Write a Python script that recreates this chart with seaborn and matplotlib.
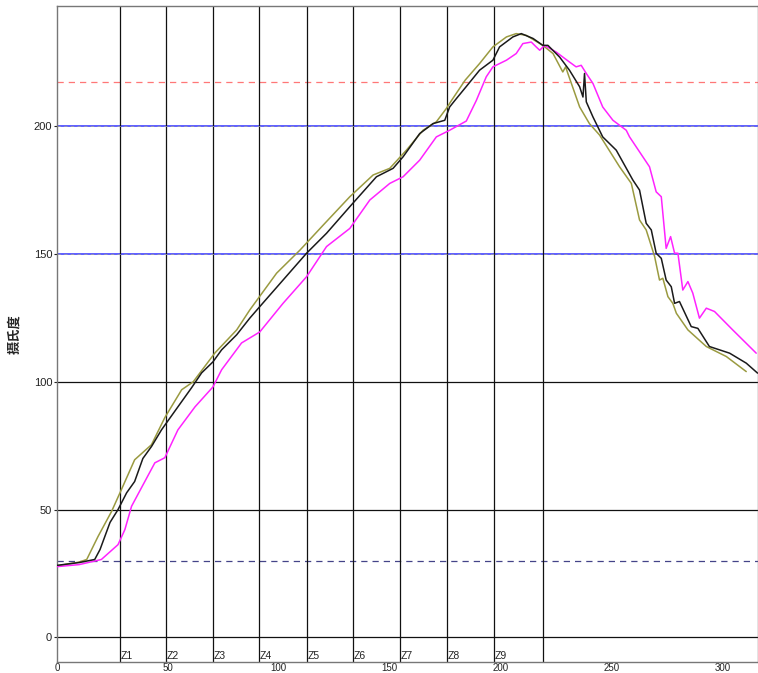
import matplotlib
matplotlib.use("Agg")
import matplotlib.pyplot as plt
import seaborn as sns
import pandas as pd

# ---- data ----
black_x = [0, 10, 17, 19.4, 23.9, 27.5, 31.4, 35, 38.7, 42.6, 47.1, 49.4, 54.5, 60.6, 65.2,
           70.3, 74.2, 81, 86.9, 91.4, 101.9, 112.5, 121.5, 132, 144, 151.5, 156, 163.5,
           169.5, 174.8, 177, 179.3, 184.5, 190.5, 196.5, 199.5, 205.5, 209.3, 214.6, 219,
           221.3, 226.6, 231, 235.6, 237.1, 237.8, 238.6, 241.6, 246, 252.1, 259.6, 262.6,
           265.6, 267.9, 270.1, 272.4, 274.6, 276.9, 278.4, 280.6, 285.9, 288.9, 294.1,
           303.2, 310.7, 315.8]
black_y = [28.2, 29.3, 30.5, 34.4, 45, 50, 56.6, 61, 70, 74.7, 81.2, 84, 90.2, 97.6, 103.5,
           107.8, 112.5, 118.4, 124.9, 129.4, 139.8, 150.3, 158.1, 168.5, 180.2, 183.5, 188,
           197.1, 201, 202.3, 207.5, 210, 215.5, 221.9, 225.8, 231, 234.9, 236.2, 234.3, 231.6,
           231.6, 227, 221.9, 215.4, 211.4, 220.6, 209.5, 203.6, 195.8, 190.6, 178.9, 175,
           162, 159.4, 150.3, 148.3, 139.8, 137.2, 130.7, 131.4, 121.6, 120.9, 113.8,
           111.2, 107.3, 103.4]

olive_x = [0, 10, 13.4, 18.5, 24.6, 28.4, 35, 42.6, 48.6, 56.2, 61.4, 71.2, 81, 86.9, 99,
           109.5, 120, 132, 142.5, 150, 157.5, 165, 171, 175.5, 177.8, 184, 190.5, 196.5,
           202.6, 207, 211.6, 219, 223.6, 228, 229.3, 230.3, 235.6, 240, 244.6, 253.6,
           258.9, 262.6, 265.6, 269.4, 271.6, 273.1, 275.4, 277.6, 279.2, 284.4, 292.7,
           301.7, 310.7]
olive_y = [28, 29.5, 30.5, 39.5, 49.3, 56.6, 69.5, 75.4, 86, 96.9, 100, 111.3, 120.3, 128.1,
           142.5, 151.5, 161.3, 172.4, 180.9, 183.5, 190.6, 198.4, 201.7, 206.9, 210, 218,
           224.5, 231, 234.9, 236.2, 235.5, 231.6, 228.4, 221.2, 223.2, 220.6, 207.5, 201,
           196.5, 184.1, 177.6, 163.3, 159.4, 149, 139.8, 140.5, 133.3, 130.7, 126.8, 120.3,
           113.8, 109.9, 104]

magenta_x = [0, 10, 20, 27.5, 30.6, 33.6, 38.1, 44.1, 48.6, 54.5, 62.2, 70.3, 74.2, 83.2,
             91.4, 101.9, 112.5, 121.5, 132, 141, 150, 156, 163.5, 171, 177, 184.5, 189,
             193.5, 196.5, 202.6, 207, 210, 213.8, 216, 217.6, 219.8, 225, 231, 234, 236.3,
             238.6, 241.6, 246, 250.6, 256.6, 258.1, 267.1, 270.1, 272.4, 274.6, 276.6,
             278.4, 279.9, 282.1, 284.4, 286.6, 289.6, 292.7, 296.4, 304.6, 315.2]
magenta_y = [27.7, 28.5, 30.5, 36.3, 42.2, 51.3, 58.6, 68.3, 70.3, 81.2, 90.2, 98, 104.7,
             115.2, 119.5, 130.7, 141.1, 152.9, 160, 171.1, 177.6, 180.2, 186.7, 195.8,
             198.4, 202, 210, 219.3, 223.2, 225.8, 228.4, 232.3, 232.9, 231, 229.7, 231.6,
             229, 225.1, 223.2, 223.8, 220.6, 216.7, 207.5, 202.3, 198.4, 195.8, 184.1,
             174.3, 172.4, 152.2, 156.8, 150.3, 150.3, 135.9, 139.2, 134.7, 124.9, 128.8,
             127.5, 120.3, 111.2]

zone_x = [28.4, 49.1, 70.3, 91.0, 112.6, 133.3, 154.5, 175.7, 196.8, 218.9]
zone_labels = ["Z1", "Z2", "Z3", "Z4", "Z5", "Z6", "Z7", "Z8", "Z9"]
black_hlines = [0, 50, 100]
blue_hlines = [150, 200]
upper_limit = 217.2
lower_limit = 30.1
x_ticks = [0, 50, 100, 150, 200, 250, 300]
y_ticks = [0, 50, 100, 150, 200]
y_label = "摄氏度"

# ---- plot ----
sns.set_style("white")
plt.rcParams['font.family'] = ['Liberation Sans', 'Noto Sans CJK SC', 'DejaVu Sans']

fig = plt.figure(figsize=(7.58, 6.73), dpi=100)
ax = fig.add_axes([0.0752, 1 - 662 / 673, 0.9248, (662 - 6) / 673])

for yv in black_hlines:
    ax.axhline(yv, color="#111111", lw=0.9, zorder=1)
for yv in blue_hlines:
    ax.axhline(yv, color="#3333ff", lw=1.1, zorder=1)
    ax.axhline(yv, color="#9999aa", lw=0.6, ls=(0, (4, 4)), zorder=1.1)
ax.axhline(upper_limit, color="#ff7777", lw=0.9, ls=(0, (5, 4)), zorder=1)
ax.axhline(lower_limit, color="#444488", lw=0.9, ls=(0, (5, 4)), zorder=1)
for xv in zone_x:
    ax.axvline(xv, color="#111111", lw=0.9, zorder=1)
for xv, lab in zip(zone_x, zone_labels):
    ax.text(xv + 0.3, -7.4, lab, ha="left", va="center", fontsize=7.5,
            color="#222222", family=["Liberation Sans"])

sns.lineplot(x=olive_x, y=olive_y, color="#9a9a40", lw=1.1, ax=ax, zorder=3)
sns.lineplot(x=magenta_x, y=magenta_y, color="#ff22ff", lw=1.1, ax=ax, zorder=3)
sns.lineplot(x=black_x, y=black_y, color="#1a1a1a", lw=1.1, ax=ax, zorder=4)

ax.set_xlim(0, 316)
ax.set_ylim(-9.6, 247)
ax.set_xticks(x_ticks)
ax.set_yticks(y_ticks)
ax.tick_params(axis="x", bottom=False, length=0, labelsize=7, pad=0.5, colors="#222222")
ax.tick_params(axis="y", left=True, length=2.5, width=0.8, labelsize=8, pad=1,
               colors="#222222")
ax.set_xlabel("")
ax.set_ylabel(y_label, family=["Noto Sans CJK SC"], fontweight="bold", fontsize=9.5,
              labelpad=9)
for s in ax.spines.values():
    s.set_color("#777777")
    s.set_linewidth(1.0)

fig.savefig("out.png", dpi=100)
